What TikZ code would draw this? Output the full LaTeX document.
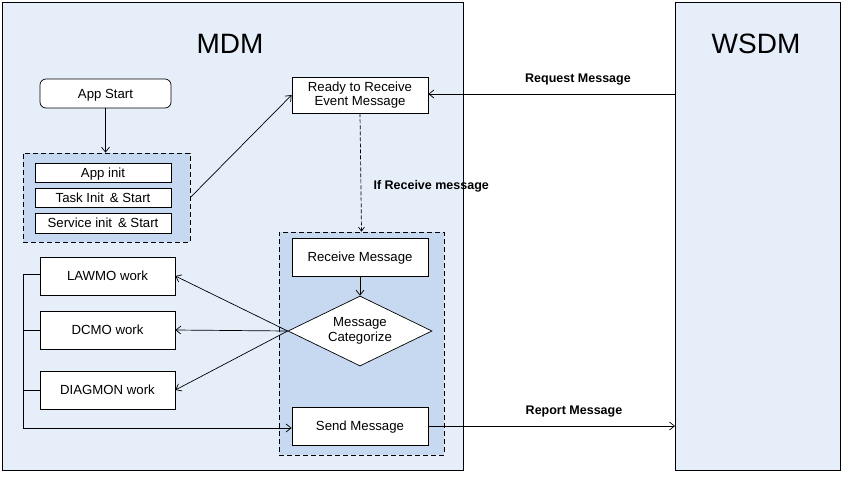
\documentclass[tikz,border=0pt]{standalone}
\usepackage{fontspec}
\setmainfont{Liberation Sans}
\usetikzlibrary{shapes.geometric,arrows.meta}
\definecolor{bgblue}{HTML}{E6EEFA}
\definecolor{grpblue}{HTML}{C6D9F1}
\definecolor{boxfill}{HTML}{FFFFFF}
\tikzset{
  every node/.style={font=\fontsize{13.2}{14.5}\selectfont},
  plainbox/.style={draw=black, fill=boxfill, line width=0.7pt, inner sep=0pt, align=center},
  oneline/.style={plainbox, text height=9.4pt, text depth=0pt},
  grp/.style={draw=black, fill=grpblue, dash pattern=on 5pt off 3pt, line width=0.7pt},
  conn/.style={line width=0.7pt, -{Straight Barb[length=5pt,width=8pt]}},
  lbl/.style={font=\bfseries\fontsize{12.5}{14}\selectfont},
}
\begin{document}
\begin{tikzpicture}[x=1pt,y=-1pt]
\useasboundingbox (0,0) rectangle (843,499);
% big frames
\draw[fill=bgblue, line width=0.7pt] (2,2) rectangle (463,470);
\draw[fill=bgblue, line width=0.7pt] (675,2) rectangle (840,470);
\node[font=\fontsize{28}{30}\selectfont] (mdm) at (230,44) {MDM};
\node[font=\fontsize{28}{30}\selectfont] (wsdm) at (756,44) {WSDM};
% group 1
\node[grp, minimum width=167pt, minimum height=89pt] (g1) at (106.5,197.5) {};
\node[oneline, rounded corners=6pt, minimum width=131pt, minimum height=29pt] (appstart) at (105.5,93.5) {App Start};
\node[oneline, minimum width=136pt, minimum height=19pt] (appinit) at (103,172.5) {App init};
\node[oneline, minimum width=136pt, minimum height=19pt] (taskinit) at (103,197.5) {Task Init \,\& Start};
\node[oneline, minimum width=136pt, minimum height=20pt] (servinit) at (103,223) {Service init \,\& Start};
% group 2
\node[grp, minimum width=165pt, minimum height=223pt] (g2) at (361.5,343.5) {};
\node[plainbox, minimum width=136pt, minimum height=36pt] (ready) at (360,95) {Ready to Receive\\Event Message};
\node[oneline, minimum width=136pt, minimum height=38pt] (recv) at (360,257) {Receive Message};
\node[plainbox, diamond, aspect=2.05, minimum width=144pt, minimum height=70pt, inner sep=0pt] (cat) at (360,331) {Message\\Categorize};
\node[oneline, minimum width=136pt, minimum height=38pt] (send) at (360,426) {Send Message};
\node[oneline, minimum width=135pt, minimum height=38pt] (lawmo) at (107.5,276) {LAWMO work};
\node[oneline, minimum width=135pt, minimum height=38pt] (dcmo) at (107.5,330) {DCMO work};
\node[oneline, minimum width=135pt, minimum height=38pt] (diag) at (107.5,390) {DIAGMON work};
% connectors
\draw[conn] (appstart.south) -- (g1.north -| appstart.south);
\draw[conn] (g1.east) -- (ready.west);
\coordinate (wsdmreq) at (675,94);
\draw[conn] (wsdmreq) -- (ready.east |- wsdmreq);
\node[lbl] (reqlbl) at (578,80) {Request Message};
\draw[line width=0.7pt, dash pattern=on 4pt off 2pt, -{Straight Barb[length=4pt,width=6pt]}] (ready.south) -- (g2.north);
\node[lbl, anchor=west] (iflbl) at (370,186) {If Receive message};
\draw[conn] (recv.south) -- (cat.north);
\draw[conn] (cat.west) -- (lawmo.east);
\draw[conn] (cat.west) -- (dcmo.east);
\draw[conn] (cat.west) -- (diag.east);
\coordinate (bx1) at (23,274);
\coordinate (bx2) at (23,428);
\draw[line width=0.7pt] (lawmo.west |- bx1) -- (bx1) -- (bx2);
\draw[line width=0.7pt] (dcmo.west) -- (dcmo.west -| bx1);
\draw[line width=0.7pt] (diag.west) -- (diag.west -| bx1);
\draw[conn] (bx2) -- (send.west |- bx2);
\coordinate (wsdmrep) at (675,426);
\draw[conn] (send.east) -- (wsdmrep);
\node[lbl] (replbl) at (574,412) {Report Message};
\end{tikzpicture}
\end{document}
